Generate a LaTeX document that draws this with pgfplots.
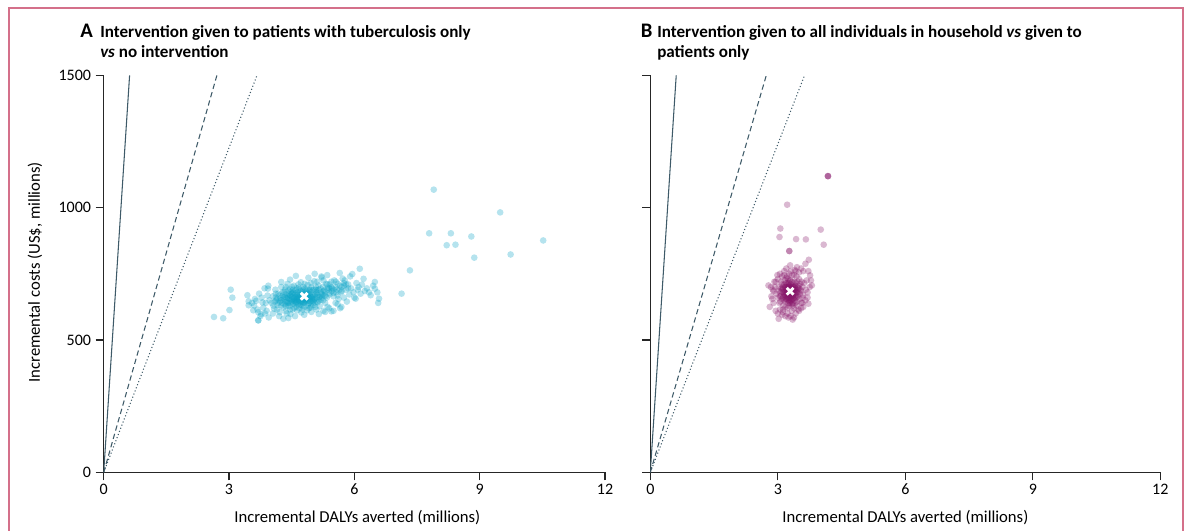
\documentclass[border=0pt]{standalone}
\usepackage{pgfplots}
\pgfplotsset{compat=1.18}
\usepackage{fontspec}
\setmainfont{Carlito}
\definecolor{framepink}{HTML}{D4708A}
\definecolor{linecol}{HTML}{3E5A68}
\definecolor{cyanpt}{HTML}{0AA3C6}
\definecolor{purplept}{HTML}{861468}
\pgfplotsset{
  myax/.style={
    scale only axis, height=297.75pt,
    xmin=0, xmax=12, ymin=0, ymax=1500,
    axis lines*=left,
    axis line style={-, line width=0.9pt, black!85},
    xtick={0,3,6,9,12}, ytick={0,500,1000,1500},
    tick align=outside, major tick length=6pt,
    tick style={line width=0.9pt, black!85},
    tick label style={font=\fontsize{12}{14}\selectfont},
    /pgf/number format/assume math mode=true,
    yticklabel style={/pgf/number format/1000 sep={}},
    xticklabel style={yshift=1pt},
  },
}
\begin{document}
\begin{tikzpicture}
\useasboundingbox (0pt,0pt) rectangle (889.5pt,398.25pt);
\draw[framepink, line width=1.5pt] (7.1pt,-20pt) -- (7.1pt,392.25pt) -- (887pt,392.25pt) -- (887pt,-20pt);

% ---------- Panel A ----------
\begin{axis}[myax, width=376pt, at={(77.775pt,44.025pt)}, anchor=south west]
\addplot[linecol, line width=0.8pt] coordinates {(0,0) (0.62,1500)};
\addplot[linecol, line width=0.8pt, dash pattern=on 4pt off 2.5pt] coordinates {(0,0) (2.71,1500)};
\addplot[linecol, line width=0.8pt, dash pattern=on 0.8pt off 1.7pt] coordinates {(0,0) (3.67,1500)};
\addplot[only marks, mark=*, mark size=2.5pt, color=cyanpt, mark options={draw opacity=0, fill=cyanpt, fill opacity=0.3}] coordinates {
(4.02,640) (4.05,665) (4.08,618) (4.11,690) (4.13,650) (4.16,632) (4.18,675) (4.21,605) (4.23,658) (4.25,700)
(4.27,640) (4.30,622) (4.32,681) (4.34,662) (4.36,610) (4.38,645) (4.40,712) (4.42,630) (4.44,668) (4.46,692)
(4.47,598) (4.49,652) (4.51,676) (4.53,636) (4.55,705) (4.56,620) (4.58,660) (4.60,688) (4.62,643) (4.63,612)
(4.65,672) (4.67,698) (4.68,632) (4.70,655) (4.72,718) (4.73,604) (4.75,682) (4.77,640) (4.78,664) (4.80,625)
(4.82,694) (4.83,650) (4.85,674) (4.87,612) (4.88,708) (4.90,638) (4.92,660) (4.93,686) (4.95,622) (4.97,700)
(4.98,648) (5.00,670) (5.02,632) (5.04,722) (5.05,655) (5.07,690) (5.09,615) (5.10,678) (5.12,642) (5.14,706)
(5.15,662) (5.17,628) (5.19,694) (5.20,652) (5.22,736) (5.24,672) (5.26,610) (5.28,688) (5.30,640) (5.32,712)
(5.34,660) (5.36,625) (5.38,698) (5.40,678)
(4.10,645) (4.20,668) (4.30,652) (4.40,640) (4.50,662) (4.60,650) (4.70,670) (4.80,658) (4.90,675) (5.00,655)
(5.10,660) (5.20,680) (4.35,672) (4.45,628) (4.55,648) (4.65,636) (4.75,654) (4.85,646) (4.95,666) (5.05,640)
(5.15,690) (5.25,650) (4.25,630) (4.15,615) (4.42,688) (4.62,695) (4.78,700) (4.88,630) (4.68,620) (4.52,615)
(4.38,600) (4.58,590) (4.72,642) (4.82,678) (4.92,690) (5.08,700) (5.18,664) (5.28,668) (4.66,664) (4.44,655)
(4.28,668) (4.12,660) (4.96,645) (4.76,628) (4.54,680) (4.34,690)
(4.64,658) (4.74,666) (4.84,662) (4.58,672) (4.48,640) (4.94,652) (4.70,645) (4.86,684) (4.56,656) (4.80,640)
(4.30,660) (4.35,645) (4.40,668) (4.45,650) (4.50,675) (4.55,660) (4.60,640) (4.65,680) (4.70,662) (4.75,645)
(4.80,672) (4.85,655) (4.90,648) (4.95,680) (5.00,662) (5.05,672) (5.10,645) (4.38,658) (4.48,682) (4.58,645)
(4.68,690) (4.78,652) (4.88,668) (4.98,660) (5.08,682) (4.42,640) (4.52,655) (4.62,670) (4.72,632) (4.82,650)
(4.92,640) (5.02,690) (4.33,635) (4.43,675) (4.53,690) (4.63,655) (4.73,676) (4.83,688) (4.93,672) (5.03,650)
(4.57,635) (4.67,648) (4.77,690) (4.87,660) (4.97,628) (5.12,670) (4.25,650) (4.18,640) (5.22,660) (5.30,680)
(4.15,655) (4.22,645) (4.28,680) (4.36,630) (4.41,660) (4.47,668) (4.51,645) (4.57,678) (4.61,662) (4.66,650)
(4.71,685) (4.76,670) (4.81,645) (4.86,670) (4.91,662) (4.96,690) (5.01,645) (5.06,665) (5.11,688) (5.16,650)
(5.21,672) (5.26,685) (5.31,665) (5.36,690) (5.41,672) (5.46,695) (5.51,690) (5.56,680) (4.46,615) (4.61,625)
(4.76,615) (4.91,620) (5.06,625) (4.36,700) (4.51,700) (4.66,710) (4.81,712) (4.96,715) (5.11,720) (4.06,630)
(4.12,675) (5.26,725) (5.41,710) (5.56,720) (5.66,705)
(3.60,630) (3.65,648) (3.70,605) (3.72,675) (3.75,590) (3.78,660) (3.82,622) (3.85,695) (3.88,640) (3.90,610)
(3.92,668) (3.95,585) (3.97,650) (3.80,642) (3.68,615) (3.86,600) (3.94,705) (3.62,655) (3.55,640) (3.58,612)
(3.70,574)
(5.45,700) (5.50,665) (5.52,725) (5.55,640) (5.58,690) (5.60,712) (5.62,655) (5.65,753) (5.66,620) (5.68,680)
(5.70,700) (5.72,732) (5.75,660) (5.77,725) (5.80,690) (5.82,645) (5.85,710) (5.88,672) (5.90,740) (5.92,695)
(5.95,749) (5.98,680) (6.00,660) (6.03,656) (6.05,715) (6.08,690) (6.10,700) (6.13,769) (6.15,675) (6.18,709)
(6.22,731) (6.25,685) (6.30,695) (6.35,680) (6.39,669) (6.45,705) (6.49,694) (6.49,719) (6.55,680) (6.59,656)
(6.57,640) (5.50,610) (5.45,608) (5.30,606) (5.69,625) (5.60,635) (5.40,620) (5.05,750) (5.21,740) (4.46,728)
(4.25,719) (3.93,694) (4.42,583) (3.77,597) (4.97,606) (4.60,742) (4.90,735) (5.35,745) (5.75,715) (4.05,600)
(4.20,590) (4.30,580) (4.80,595) (5.15,598)
(5.45,685) (5.55,700) (5.65,690) (5.75,705) (5.85,695) (5.50,678) (5.60,668) (5.70,685) (5.80,710) (5.40,695)
(5.35,710) (5.25,700) (5.45,720)
(2.64,587) (2.86,582) (3.01,613) (3.04,690) (3.08,660) (3.44,669) (3.47,646) (3.47,631) (3.70,574) (7.13,675)
(7.33,763) (7.79,903) (7.90,1068) (8.21,858) (8.31,903) (8.42,860) (8.80,891) (8.87,811) (9.49,982) (9.74,823)
(10.52,876)
};
\addplot[only marks, mark=x, mark size=3.6pt, color=white, mark options={line width=2.2pt}] coordinates {(4.8,665)};
\end{axis}

% ---------- Panel B ----------
\begin{axis}[myax, width=382.5pt, at={(487.725pt,44.025pt)}, anchor=south west, yticklabels={}]
\addplot[linecol, line width=0.8pt] coordinates {(0,0) (0.61,1500)};
\addplot[linecol, line width=0.8pt, dash pattern=on 4pt off 2.5pt] coordinates {(0,0) (2.73,1500)};
\addplot[linecol, line width=0.8pt, dash pattern=on 0.8pt off 1.7pt] coordinates {(0,0) (3.63,1500)};
\addplot[only marks, mark=*, mark size=2.5pt, color=purplept, mark options={draw opacity=0, fill=purplept, fill opacity=0.3}] coordinates {
(3.00,660) (3.02,700) (3.04,640) (3.06,680) (3.08,720) (3.10,655) (3.12,695) (3.13,630) (3.15,710) (3.16,670)
(3.18,645) (3.20,735) (3.21,690) (3.23,620) (3.24,665) (3.26,705) (3.27,648) (3.29,684) (3.30,725) (3.32,660)
(3.33,635) (3.35,700) (3.36,675) (3.38,745) (3.39,650) (3.41,690) (3.42,715) (3.44,662) (3.45,630) (3.47,698)
(3.48,680) (3.50,730) (3.51,655) (3.53,712) (3.55,685) (3.56,640) (3.58,700) (3.60,670)
(3.05,665) (3.10,690) (3.15,650) (3.20,675) (3.25,690) (3.30,670) (3.35,685) (3.40,700) (3.45,680) (3.50,695)
(3.28,640) (3.22,710) (3.18,700) (3.34,720) (3.38,660) (3.42,640) (3.26,660) (3.14,680) (3.32,695) (3.24,730)
(3.36,655) (3.46,720) (3.12,660) (3.08,695) (3.30,650) (3.20,655) (3.40,675) (3.28,705) (3.16,725) (3.44,740)
(3.52,675) (3.06,645) (3.33,610) (3.23,600)
(3.22,685) (3.27,672) (3.31,688) (3.36,668) (3.25,678) (3.34,692) (3.29,662) (3.19,668) (3.39,684) (3.24,700)
(3.20,690) (3.25,700) (3.30,680) (3.35,665) (3.40,690) (3.22,660) (3.28,690) (3.33,700) (3.38,680) (3.18,680)
(3.26,715) (3.31,710) (3.36,705) (3.24,650) (3.29,670) (3.34,655) (3.42,695) (3.16,690) (3.21,700) (3.27,695)
(3.32,678) (3.37,690) (3.14,665) (3.44,670) (3.23,672) (3.28,725) (3.30,700) (3.35,640) (3.25,640) (3.19,715)
(3.39,720) (3.41,660) (3.12,700) (3.46,690) (3.27,682) (3.31,665)
(3.21,675) (3.26,685) (3.31,695) (3.36,690) (3.24,690) (3.29,700) (3.34,675) (3.19,655) (3.27,660) (3.32,650)
(3.38,700) (3.23,715) (3.28,675) (3.33,690) (3.17,700) (3.41,705) (3.43,680) (3.15,675) (3.26,630) (3.36,630)
(3.22,740) (3.34,745) (3.11,680) (3.47,665) (3.30,640) (3.09,710) (3.49,705) (3.27,750) (3.38,620) (3.18,625)
(3.07,665) (3.53,690) (3.30,760) (3.42,760) (3.15,745) (3.02,685) (3.56,720) (3.12,615) (3.45,645) (3.58,660)
(2.78,706) (2.81,625) (2.85,665) (2.88,690) (2.90,640) (2.92,720) (2.95,610) (2.97,675) (2.99,745) (2.87,655)
(2.93,700) (3.00,600) (3.05,615) (3.10,595) (3.12,605) (3.18,590) (3.25,585) (3.35,577) (3.30,590) (3.42,600)
(3.50,610) (3.60,625) (3.65,650) (3.72,637) (3.70,680) (3.75,700) (3.80,706) (3.76,744) (3.68,725) (3.65,788)
(3.60,760) (3.55,770) (3.50,755) (3.45,775) (3.40,765) (3.29,782) (3.20,770) (3.15,760) (3.05,750) (3.10,740)
(3.00,730) (2.95,720) (3.62,715) (3.66,690) (3.70,660) (3.58,640) (3.55,620) (3.48,615) (2.90,685) (2.84,700)
(3.02,580) (3.38,585) (3.72,760) (3.78,725)
(3.73,803) (3.27,836) (3.27,836) (3.22,1011) (3.06,921) (3.04,889) (3.43,881) (3.66,880) (4.01,917) (4.08,860)
(4.18,1119) (4.18,1119) (4.18,1119)
};
\addplot[only marks, mark=x, mark size=3.6pt, color=white, mark options={line width=2.2pt}] coordinates {(3.29,684)};
\end{axis}

% ---------- Titles and labels ----------
\node[anchor=base west, inner sep=0, font=\bfseries\fontsize{15.5}{18}\selectfont] at (60pt,369.75pt) {A};
\node[anchor=base west, inner sep=0, font=\bfseries\fontsize{12.8}{15}\selectfont] at (75pt,369.75pt) {Intervention given to patients with tuberculosis only};
\node[anchor=base west, inner sep=0, font=\bfseries\fontsize{12.8}{15}\selectfont] at (75pt,354.75pt) {\textit{vs} no intervention};
\node[anchor=base west, inner sep=0, font=\bfseries\fontsize{15.5}{18}\selectfont] at (480.5pt,369.75pt) {B};
\node[anchor=base west, inner sep=0, font=\bfseries\fontsize{12.8}{15}\selectfont] at (492.75pt,369.75pt) {Intervention given to all individuals in household \textit{vs} given to};
\node[anchor=base west, inner sep=0, font=\bfseries\fontsize{12.8}{15}\selectfont] at (492.75pt,354.75pt) {patients only};

\node[rotate=90, inner sep=0, font=\fontsize{12.5}{14}\selectfont] at (26.25pt,194pt) {Incremental costs (US\$, millions)};
\node[inner sep=0, font=\fontsize{12.5}{14}\selectfont] at (268pt,9.75pt) {Incremental DALYs averted (millions)};
\node[inner sep=0, font=\fontsize{12.5}{14}\selectfont] at (679pt,9.75pt) {Incremental DALYs averted (millions)};
\end{tikzpicture}
\end{document}
